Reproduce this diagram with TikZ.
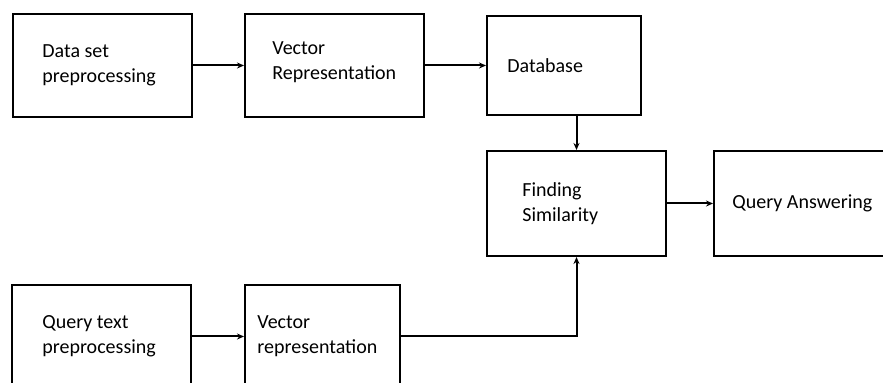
\documentclass[tikz,border=0pt]{standalone}
\usepackage{fontspec}
\setmainfont{Carlito}
\usetikzlibrary{positioning,arrows.meta}

\tikzset{
  box/.style={draw,line width=1pt,inner sep=0pt,minimum height=51.5pt},
  txt/.style={align=left,inner sep=0pt,font=\fontsize{10}{12.5}\selectfont},
  flow/.style={-{Stealth[length=3.5pt,width=3pt]},line width=1pt},
}

\begin{document}
\begin{tikzpicture}[x=0.5pt,y=-0.5pt]
        \useasboundingbox (0,0) rectangle (883,383);
        \clip (0,0) rectangle (883,383);

        % Cajas
        \node[box,minimum width=89.5pt] (data) at (102.5,65.5) {};
        \node[box,minimum width=89.5pt] (vec) at (334.5,65.5) {};
        \node[box,minimum width=77pt,minimum height=49.5pt] (db) at (564,65.5) {};
        \node[box,minimum width=89.5pt,minimum height=52.5pt] (sim) at (576.5,203.5) {};
        \node[box,minimum width=89.5pt,minimum height=52.5pt] (ans) at (803.5,203.5) {};
        \node[box,minimum width=89.5pt] (query) at (101.5,336.5) {};
        \node[box,minimum width=77.5pt] (vecq) at (322.5,336.5) {};

        % Textos
        \node[txt,right=15pt of data.west] (datatxt) {Data set\\preprocessing};
        \node[txt,right=14pt of vec.west,yshift=1.5pt] (vectxt) {Vector\\Representation};
        \node[txt,right=10.5pt of db.west] (dbtxt) {Database};
        \node[txt,right=18pt of sim.west] (simtxt) {Finding\\Similarity};
        \node[txt,right=9.5pt of ans.west] (anstxt) {Query Answering};
        \node[txt,right=15.5pt of query.west] (querytxt) {Query text\\preprocessing};
        \node[txt,right=6.5pt of vecq.west] (vecqtxt) {Vector\\representation};

        % Flechas
        \draw[flow] (data) -- (vec);
        \draw[flow] (vec) -- (db);
        \draw[flow] (sim.north |- db.south) -- (sim.north);
        \draw[flow] (sim) -- (ans);
        \draw[flow] (query) -- (vecq);
        \draw[flow] (vecq.east) -| (sim.south);
\end{tikzpicture}
\end{document}
